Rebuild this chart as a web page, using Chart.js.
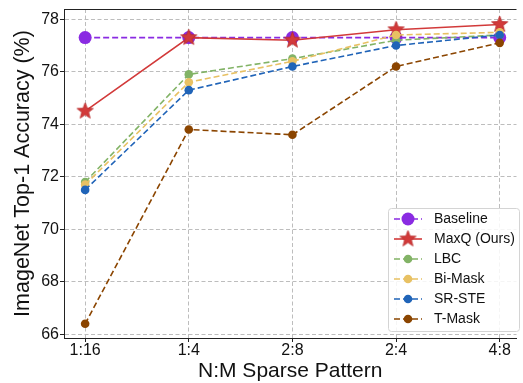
<!DOCTYPE html>
<html>
<head>
<meta charset="utf-8">
<script src="https://cdn.jsdelivr.net/npm/chart.js@4.4.1/dist/chart.umd.min.js"></script>
<style>
  html, body { margin: 0; padding: 0; background: #fff; overflow: hidden; }
  #wrap { width: 523px; height: 383px; }
</style>
</head>
<body>
<div id="wrap"><canvas id="accChart" width="523" height="383"></canvas></div>
<script>
const PATTERNS = ['1:16', '1:4', '2:8', '2:4', '4:8'];
const Y_TICKS  = [66, 68, 70, 72, 74, 76, 78];

const BASELINE = [77.3, 77.3, 77.3, 77.3, 77.3];
const MAXQ     = [74.5, 77.3, 77.2, 77.6, 77.8];
const LBC      = [71.8, 75.9, 76.5, 77.2, 77.4];
const BIMASK   = [71.7, 75.6, 76.4, 77.4, 77.5];
const SRSTE    = [71.5, 75.3, 76.2, 77.0, 77.4];
const TMASK    = [66.4, 73.8, 73.6, 76.2, 77.1];

const FONT = '"Liberation Sans", Arial, Helvetica, sans-serif';
const DASH = [6, 3];

// filled five-point star, like matplotlib's '*' marker
function makeStar(r, fill, edge) {
    const size = Math.ceil(r * 2 + 2);
    const c = document.createElement('canvas');
    c.width = size; c.height = size;
    const ctx = c.getContext('2d');
    const cx = size / 2, cy = size / 2, inner = r * 0.42;
    ctx.beginPath();
    for (let i = 0; i < 10; i++) {
        const rad = i % 2 === 0 ? r : inner;
        const a = -Math.PI / 2 + i * Math.PI / 5;
        const px = cx + rad * Math.cos(a), py = cy + rad * Math.sin(a);
        i === 0 ? ctx.moveTo(px, py) : ctx.lineTo(px, py);
    }
    ctx.closePath();
    ctx.fillStyle = fill;
    ctx.fill();
    ctx.lineWidth = 0.8;
    ctx.strokeStyle = edge;
    ctx.stroke();
    return c;
}

const toPoints = vals => vals.map((v, i) => ({ x: i, y: v }));

function series(label, vals, color, opts) {
    return {
        label,
        data: toPoints(vals),
        borderColor: color,
        backgroundColor: color,
        pointBackgroundColor: color,
        pointBorderColor: color,
        borderWidth: 1.6,
        borderDash: DASH,
        pointRadius: 4.3,
        pointBorderWidth: 0,
        tension: 0,
        ...opts,
    };
}

const starImg = makeStar(8.5, '#d23a3a', '#b82a2a');

// matplotlib-like legend: short line with the marker on it
const legendBox = {
    id: 'legendBox',
    afterDraw(chart) {
        const { ctx } = chart;
        const x0 = 388, y0 = 208, w = 131, h = 123;
        ctx.save();
        ctx.beginPath();
        ctx.roundRect(x0 + 0.5, y0 + 0.5, w, h, 3);
        ctx.fillStyle = 'rgba(255,255,255,0.85)';
        ctx.fill();
        ctx.strokeStyle = '#d4d4d4';
        ctx.lineWidth = 1;
        ctx.stroke();
        chart.data.datasets.forEach((ds, i) => {
            const y = 219 + i * 20;
            ctx.setLineDash(ds.borderDash || []);
            ctx.strokeStyle = ds.borderColor;
            ctx.lineWidth = ds.borderWidth;
            ctx.beginPath();
            ctx.moveTo(394, y);
            ctx.lineTo(422, y);
            ctx.stroke();
            ctx.setLineDash([]);
            if (ds.pointStyle instanceof HTMLCanvasElement) {
                const img = ds.pointStyle;
                ctx.drawImage(img, 408 - img.width / 2, y - img.height / 2);
            } else {
                ctx.beginPath();
                ctx.arc(408, y, ds.pointRadius, 0, Math.PI * 2);
                ctx.fillStyle = ds.pointBackgroundColor;
                ctx.fill();
            }
            ctx.fillStyle = '#111';
            ctx.font = '14px ' + FONT;
            ctx.textAlign = 'left';
            ctx.textBaseline = 'middle';
            ctx.fillText(ds.label, 434, y + 0.5);
        });
        ctx.restore();
    },
};

// top spine (the right one falls just outside the picture)
const frame = {
    id: 'frame',
    beforeDatasetsDraw(chart) {
        const { ctx, chartArea: a } = chart;
        ctx.save();
        ctx.strokeStyle = '#222';
        ctx.lineWidth = 1;
        ctx.beginPath();
        ctx.moveTo(a.left, a.top + 0.5);
        ctx.lineTo(a.right, a.top + 0.5);
        ctx.stroke();
        ctx.restore();
    },
};

new Chart(document.getElementById('accChart'), {
    type: 'line',
    data: {
        datasets: [
            series('Baseline', BASELINE, '#8a2be2', { pointRadius: 6.5, order: 6 }),
            series('MaxQ (Ours)', MAXQ, '#d23a3a', { borderDash: [], pointStyle: starImg, order: 5 }),
            series('LBC', LBC, '#82b366', { order: 4 }),
            series('Bi-Mask', BIMASK, '#e8c163', { order: 3 }),
            series('SR-STE', SRSTE, '#2064b8', { order: 2 }),
            series('T-Mask', TMASK, '#8b4500', { order: 1 }),
        ],
    },
    options: {
        responsive: false,
        devicePixelRatio: 1,
        animation: false,
        events: [],
        layout: { padding: { top: 7, left: 0, right: 0, bottom: 0 } },
        plugins: {
            legend: { display: false },
            tooltip: { enabled: false },
        },
        scales: {
            x: {
                type: 'linear',
                min: -0.204,
                max: 4.162,
                afterBuildTicks: s => { s.ticks = PATTERNS.map((_, i) => ({ value: i })); },
                afterFit: s => { s.height = 45; },
                ticks: {
                    callback: v => PATTERNS[v],
                    color: '#111',
                    padding: 1,
                    maxRotation: 0,
                    font: { family: FONT, size: 16, lineHeight: 1 },
                },
                grid: { color: '#bdbdbd', tickLength: 4, tickColor: '#222', tickBorderDash: [] },
                border: { color: '#222', width: 1, dash: [4, 2.5] },
                title: {
                    display: true,
                    text: 'N:M Sparse Pattern',
                    color: '#111',
                    padding: { top: 0, bottom: 1 },
                    font: { family: FONT, size: 21, lineHeight: 1 },
                },
            },
            y: {
                min: 65.86,
                max: 78.39,
                afterBuildTicks: s => { s.ticks = Y_TICKS.map(v => ({ value: v })); },
                afterFit: s => { s.width = 64; },
                ticks: {
                    color: '#111',
                    padding: 1,
                    font: { family: FONT, size: 16, lineHeight: 1 },
                },
                grid: { color: '#bdbdbd', tickLength: 4, tickColor: '#222', tickBorderDash: [] },
                border: { color: '#222', width: 1, dash: [4, 2.5] },
                title: {
                    display: true,
                    text: 'ImageNet Top-1 Accuracy (%)',
                    color: '#111',
                    padding: { top: 12.5, bottom: 0 },
                    font: { family: FONT, size: 21.5, lineHeight: 1 },
                },
            },
        },
    },
    plugins: [frame, legendBox],
});
</script>
</body>
</html>
